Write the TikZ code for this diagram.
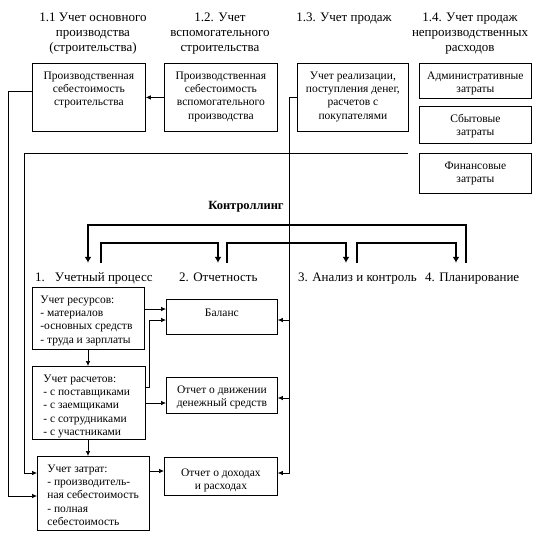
\documentclass[tikz,border=0pt]{standalone}
\usepackage{fontspec}
\setmainfont{Liberation Serif}
\usetikzlibrary{arrows.meta,calc}
\newcommand\pb[5]{\parbox[c][#2pt][t]{#1pt}{#4\rule{0pt}{#3pt}#5}}
\tikzset{
  box/.style={draw, line width=0.8pt, inner sep=0pt, anchor=north west, font=\fontsize{11.5}{13.2}\selectfont},
  ln/.style={line width=0.7pt},
  arr/.style={line width=0.7pt, -{Latex[length=5pt,width=4.5pt]}},
  tarr/.style={line width=2.4pt, -{Latex[length=6pt,width=7pt]}},
  hdr/.style={align=center, font=\fontsize{13}{15}\selectfont, inner sep=0pt, anchor=north},
  lbl/.style={font=\fontsize{13}{15}\selectfont, inner xsep=0pt, inner ysep=9pt, text height=9pt, anchor=base west},
  ctl/.style={font=\fontsize{12.5}{15}\selectfont\bfseries, inner sep=0pt, anchor=base}
}
\begin{document}
\begin{tikzpicture}[x=1pt,y=-1pt]
\useasboundingbox (0,0) rectangle (538,542);
% headers
\node[hdr] (h1) at (93,13) {1.1 Учет основного\\производства\\(строительства)};
\node[hdr] (h2) at (220,13) {1.2. Учет\\вспомогательного\\строительства};
\node[hdr] (h3) at (344,13) {1.3. Учет продаж};
\node[hdr] (h4) at (470,13) {1.4. Учет продаж\\непроизводственных\\расходов};
% top boxes
\node[box] (A) at (32,63) {\pb{113}{68}{16}{\centering}{Производственная\\себестоимость\\строительства}};
\node[box] (B) at (164,63) {\pb{113}{68}{16}{\centering}{Производственная\\себестоимость\\вспомогательного\\производства}};
\node[box] (C) at (297,63) {\pb{111}{68}{16}{\centering}{Учет реализации,\\поступления денег,\\расчетов с\\покупателями}};
\node[box] (Ad) at (419,63) {\pb{112}{35}{16}{\centering}{Административные\\затраты}};
\node[box] (Sb) at (419,106) {\pb{112}{37}{16}{\centering}{Сбытовые\\затраты}};
\node[box] (Fi) at (419,153) {\pb{112}{40}{16}{\centering}{Финансовые\\затраты}};
% controlling
\node[ctl] (K) at (246,209) {Контроллинг};
\node[lbl] (L1) at (35,281) {1.\hspace{10pt}Учетный процесс};
\node[lbl] (L2) at (179,281) {2. Отчетность};
\node[lbl] (L3) at (298,281) {3. Анализ и контроль};
\node[lbl] (L4) at (425,281) {4. Планирование};
% lower boxes
\node[box] (R) at (32,287) {\pb{112}{62}{16}{\raggedright\leftskip=8pt}{Учет ресурсов:\\- материалов\\-основных средств\\- труда и зарплаты}};
\node[box] (Ra) at (32,366) {\pb{113}{73}{16}{\raggedright\leftskip=11pt}{Учет расчетов:\\- с поставщиками\\- с заемщиками\\- с сотрудниками\\- с участниками}};
\node[box] (Z) at (37,456) {\pb{112}{74}{16}{\raggedright\leftskip=10pt}{Учет затрат:\\- производитель-\\ная себестоимость\\- полная\\себестоимость}};
\node[box] (Bal) at (166,299) {\pb{111}{35}{17}{\centering}{Баланс}};
\node[box] (Dv) at (166,377) {\pb{111}{36}{16}{\centering}{Отчет о движении\\денежный средств}};
\node[box] (Do) at (164,457) {\pb{113}{38}{19}{\centering}{Отчет о доходах\\и расходах}};
% top connectors
\draw[arr] (B.west) -- (A.east);
\draw[arr] (A.west |- 0,91) -- (8,91) -- (8,496) -- (Z.west |- 0,496);
\coordinate (F) at (408,153);
\draw[arr] (F) -- (24,153) -- (24,473) -- (Z.west |- 0,473);
\draw[arr] (C.west) -| (289,473) -- (Do.east |- 0,473);
\draw[arr] (289,320) -- (Bal.east |- 0,320);
\draw[arr] (289,398) -- (Dv.east |- 0,398);
% controlling brackets
\draw[tarr] (466,0 |- L4.north) |- (88,225) -- (88,0 |- L1.north);
\draw[tarr] (101,0 |- L1.north) |- (218,243) -- (218,0 |- L2.north);
\draw[tarr] (227,0 |- L2.north) |- (346,243) -- (346,0 |- L3.north);
\draw[tarr] (357,0 |- L3.north) |- (456,243) -- (456,0 |- L4.north);
% lower connectors
\draw[arr] (R.south -| 88,0) -- (88,0 |- Ra.north);
\draw[arr] (Ra.south -| 88,0) -- (88,0 |- Z.north);
\draw[arr] (R.east |- 0,309) -- (Bal.west |- 0,309);
\draw[arr] (Ra.east |- 0,387) -- (149,387) -- (149,320) -- (Bal.west |- 0,320);
\draw[arr] (Ra.east |- 0,403) -- (Dv.west |- 0,403);
\draw[arr] (Z.east |- 0,471) -- (Do.west |- 0,471);
\end{tikzpicture}
\end{document}
